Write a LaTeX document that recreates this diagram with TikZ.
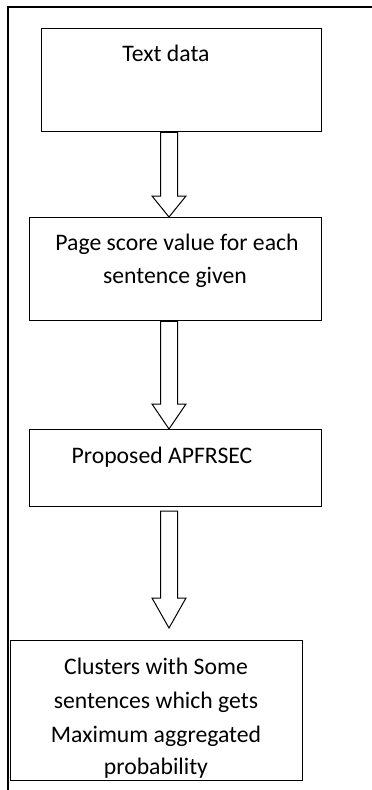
\documentclass[tikz,border=0pt]{standalone}
\usepackage{fontspec}
\setmainfont{Carlito}
\usetikzlibrary{calc}
\tikzset{
  stagebox/.style={draw=black, line width=1.3pt, inner sep=0pt, anchor=north west},
  label/.style={anchor=base, inner sep=0pt, font=\fontsize{23.7}{34}\selectfont},
  blk/.style={draw=black, line width=1pt, fill=white, line join=miter},
  frame/.style={draw=black, line width=1.5pt}
}
% hollow block arrow: shaft top point, tip point, head length
\newcommand\blockarrow[3]{%
  \draw[blk] let \p1=(#1), \p2=(#2) in
    ({\x1-8.5pt},\y1) -- ({\x1+8.5pt},\y1) -- ({\x1+8.5pt},{\y2+#3pt})
    -- ({\x1+17pt},{\y2+#3pt}) -- (\x2,\y2) -- ({\x1-17pt},{\y2+#3pt})
    -- ({\x1-8.5pt},{\y2+#3pt}) -- cycle;}
\begin{document}
\begin{tikzpicture}[x=1pt, y=-1pt]
  \useasboundingbox (0,0) rectangle (372,790);
  % page frame (top and left edges only)
  \coordinate (ftl) at (8,7);
  \coordinate (ftr) at (372,7);
  \coordinate (fbl) at (8,790);
  \draw[frame] (ftr) -- (ftl) -- (fbl);

  % stage boxes
  \node[stagebox, minimum width=280pt, minimum height=103pt] (b1) at (41,28) {};
  \node[stagebox, minimum width=292pt, minimum height=103pt] (b2) at (29,217) {};
  \node[stagebox, minimum width=292pt, minimum height=77pt]  (b3) at (29,429) {};
  \node[stagebox, minimum width=292pt, minimum height=140pt] (b4) at (10,640) {};

  % box texts
  \node[label] (t1) at (166,61) {Text data};
  \node[label] (t2a) at (177,250) {Page score value for each};
  \node[label] (t2b) at (175,283) {sentence given};
  \node[label] (t3) at (162,463) {Proposed APFRSEC};
  \node[label] (t4a) at (156,674) {Clusters with Some};
  \node[label] (t4b) at (156,708) {sentences which gets};
  \node[label] (t4c) at (156,742) {Maximum aggregated};
  \node[label] (t4d) at (156,774) {probability};

  % arrow axis and free arrow ends
  \coordinate (ax) at (169,0);
  \coordinate (a3s) at (169,511);
  \coordinate (a3e) at (169,628);

  % hollow arrows between stages
  \blockarrow{ax |- b1.south}{ax |- b2.north}{21}
  \blockarrow{ax |- b2.south}{ax |- b3.north}{25}
  \blockarrow{a3s}{a3e}{30}
\end{tikzpicture}
\end{document}
